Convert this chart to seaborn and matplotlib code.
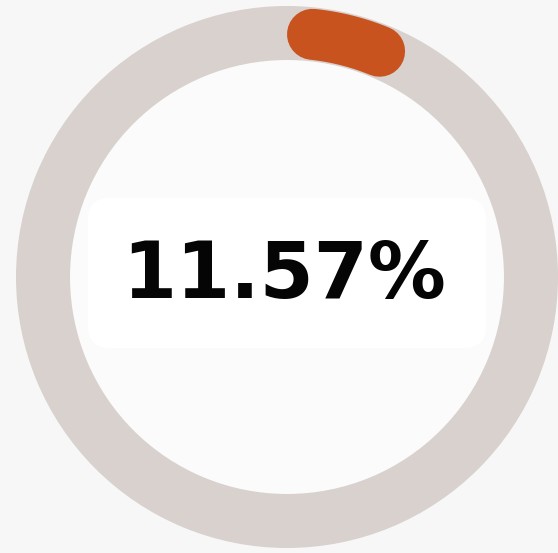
import numpy as np
import pandas as pd
import matplotlib
matplotlib.use("Agg")
import matplotlib.pyplot as plt
from matplotlib.patches import FancyBboxPatch, Circle
import seaborn as sns

# ---- data ----
labels = ["Share", "Rest"]
values = [11.57, 88.43]
display_label = "11.57%"

# ---- style ----
sns.set_theme(style="white")
plt.rcParams["font.family"] = ["DejaVu Sans"]

W, H, DPI = 558, 553, 100
fig = plt.figure(figsize=(W / DPI, H / DPI), dpi=DPI)
fig.patch.set_facecolor("#f7f7f7")
ax = fig.add_axes([0, 0, 1, 1])
ax.set_facecolor("#f7f7f7")

# pixel geometry -> data units (ring radius = 1)
cx, cy, R = 287.0, 277.0, 271.0
ring_w = 54 / R
ring_color = "#d8d1ce"
accent = "#c8531e"

# inner fill
ax.add_patch(Circle((0, 0), 1 - ring_w, facecolor="#fbfbfb", edgecolor="none", zorder=1))
# white rounded box behind label
bx0, bx1 = (88 - cx) / R, (486 - cx) / R
by0, by1 = (cy - 348) / R, (cy - 198) / R
ax.add_patch(FancyBboxPatch((bx0, by0), bx1 - bx0, by1 - by0,
                            boxstyle="round,pad=0,rounding_size=0.08",
                            facecolor="white", edgecolor="none", zorder=2))

# gray ring track
ax.pie([sum(values)], radius=1.0, colors=[ring_color], startangle=90,
       wedgeprops=dict(width=ring_w, edgecolor="none"))
ax.set_xlim((0 - cx) / R, (W - cx) / R)
ax.set_ylim((cy - H) / R, (cy - 0) / R)
ax.set_aspect("auto")
ax.axis("off")

# orange progress arc (rounded caps)
mid_r = 1 - ring_w / 2
start_deg, end_deg = 6.0, 22.3   # clockwise from 12 o'clock
theta = np.deg2rad(90 - np.linspace(start_deg, end_deg, 60))
arc = pd.DataFrame({"x": mid_r * np.cos(theta), "y": mid_r * np.sin(theta)})
ax.plot(arc["x"], arc["y"], color=accent, lw=51 * 72 / DPI,
        solid_capstyle="round", zorder=5)

# center label
ax.text(-3 / R, (cy - 276) / R, display_label, ha="center", va="center",
        fontsize=56, fontweight="bold", color="#050505", zorder=6)

fig.savefig("out.png", dpi=DPI)
